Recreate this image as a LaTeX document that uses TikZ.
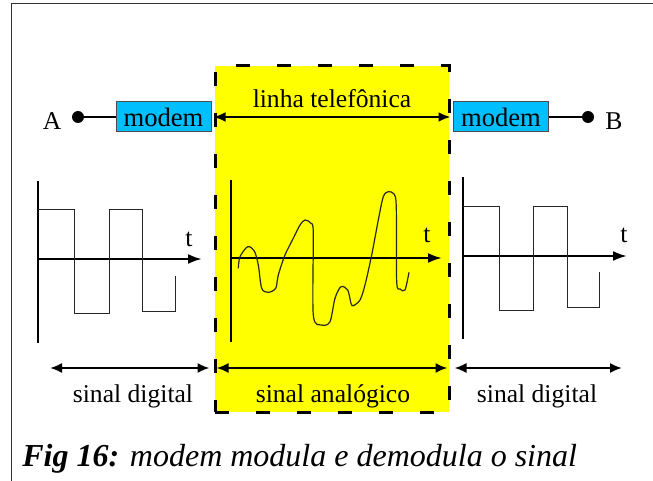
\documentclass[tikz,border=0pt]{standalone}
\usepackage{fontspec}
\setmainfont{Liberation Serif}
\usetikzlibrary{arrows.meta}

\definecolor{modemblue}{RGB}{0,191,255}
\definecolor{faixa}{RGB}{255,255,0}

\tikzset{
  txt/.style={font=\fontsize{12.8}{15}\selectfont, inner sep=0pt},
  modembox/.style={draw=black!70, line width=0.5pt, fill=modemblue, inner sep=0pt,
    font=\fontsize{13.3}{15}\selectfont, minimum width=47.5pt, minimum height=15pt},
  ponto/.style={circle, fill=black, minimum size=6pt, inner sep=0pt},
  seta/.style={{Latex[length=6pt,width=5pt]}-{Latex[length=6pt,width=5pt]}, line width=1.3pt},
  eixo/.style={-{Latex[length=7pt,width=5pt]}, line width=1.2pt},
  onda/.style={line width=0.5pt, black!85},
  fonebox/.style={draw, fill=faixa, line width=1.5pt, dash pattern=on 7pt off 13.5pt,
    minimum width=117pt, minimum height=173pt, inner sep=0pt}
}

\begin{document}
\begin{tikzpicture}[x=0.5pt,y=-0.5pt]
\useasboundingbox (0,0) rectangle (653,481);
\draw[black!80, line width=0.5pt] (11,481) -- (11,4) -- (653,4);

% linha telefonica
\node[fonebox] (linha) at (332,239) {};

\node[ponto] (pA) at (78,117) {};
\node[ponto] (pB) at (588,117) {};
\node[txt] (A) at (52,121) {A};
\node[txt] (B) at (614,121) {B};
\node[modembox] (modemA) at (163.5,117) {modem};
\node[modembox] (modemB) at (501,117) {modem};
\draw[line width=1.3pt] (pA) -- (modemA);
\draw[line width=1.3pt] (modemB) -- (pB);
\draw[seta] (linha.west |- modemA) -- (linha.east |- modemA);
\node[txt, anchor=base] (fone) at (332,108) {linha telefônica};

% sinais
\begin{scope}
\draw[line width=1.2pt] (38,181) -- (38,343);
\draw[eixo] (38,259) -- (202,259);
\node[txt, anchor=base] (tA) at (189,246) {t};
\draw[onda] (38,209) -| (74,313) -| (109,209) -| (142,311) -| (175,276);
\end{scope}

\begin{scope}
\draw[line width=1.2pt] (231,180) -- (231,342);
\draw[eixo] (231,258) -- (442,258);
\node[txt, anchor=base] (tM) at (427,242) {t};
\draw[onda, line width=0.6pt] plot[smooth, tension=0.5] coordinates {
  (238.3,268.3) (240,256.7) (247.7,246.7) (254.3,251) (258.3,265) (261.7,288.3)
  (268.3,292.3) (275.7,288.3) (278.3,275) (285,255) (293.3,238.3) (300,225)
  (305,220) (311,223.3) (313.3,233.3) (313.3,315) (321.7,325) (330,321.7)
  (335,298.3) (341,286.7) (347.7,290) (351,303.3) (353.3,305.7) (360,300)
  (365,285) (371.7,255) (378.3,220) (383.3,196.7) (388.3,191.7) (394.3,194.3)
  (396.3,208.3) (396.7,281.7) (400,289) (405,290) (409,272.3)};
\end{scope}

\begin{scope}
\draw[line width=1.2pt] (463,177) -- (463,339);
\draw[eixo] (463,256) -- (627,256);
\node[txt, anchor=base] (tB) at (624,242) {t};
\draw[onda] (463,206) -| (499,310) -| (533,206) -| (567,307) -| (599,272);
\end{scope}

% faixas
\coordinate (sL) at (50,368);
\coordinate (sR) at (622,368);
\draw[seta, line width=1pt, shorten >=2pt] (sL) -- (linha.west |- sL);
\draw[seta, line width=1pt, shorten <=1.5pt, shorten >=1.5pt] (linha.west |- sL) -- (linha.east |- sL);
\draw[seta, line width=1pt, shorten <=2pt] (linha.east |- sL) -- (sR);
\node[txt, anchor=base] (digA) at (133,402) {sinal digital};
\node[txt, anchor=base] (anal) at (333,402) {sinal analógico};
\node[txt, anchor=base] (digB) at (537,402) {sinal digital};

\node[anchor=base west, inner sep=0pt, font=\fontsize{16}{19}\selectfont] (fig) at (22,466)
  {\textbf{\textit{Fig 16:}} \textit{modem modula e demodula o sinal}};
\end{tikzpicture}
\end{document}
